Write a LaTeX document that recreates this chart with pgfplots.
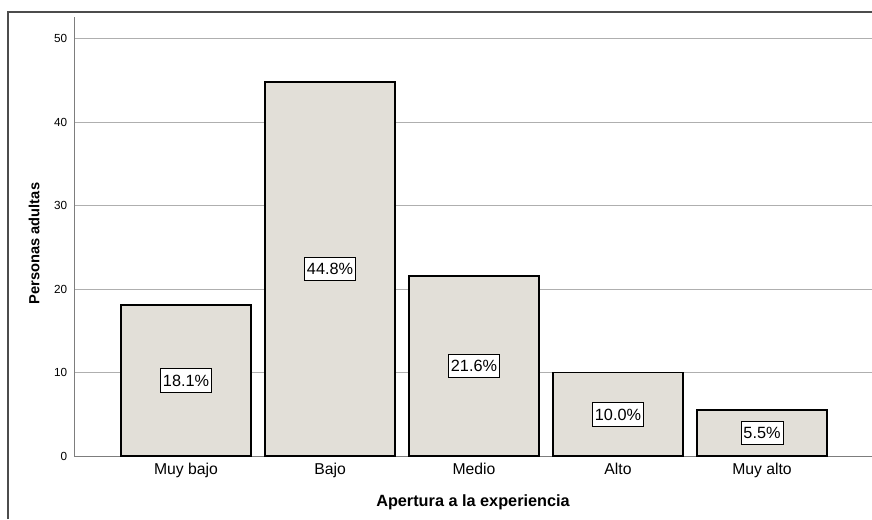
\documentclass[border=0pt]{standalone}
\usepackage{pgfplots}
\pgfplotsset{compat=1.18}
\usepackage{fontspec}
\setmainfont{Liberation Sans}
\definecolor{barfill}{RGB}{226,223,216}
\definecolor{gridc}{RGB}{175,175,175}
\definecolor{spinec}{RGB}{125,125,125}
\begin{document}
\begin{tikzpicture}
\useasboundingbox (0,0) rectangle (654pt,389.25pt);
\draw[line width=0.9pt, black!70] (6pt,0) -- (6pt,380.25pt) -- (654pt,380.25pt);
\begin{axis}[
  at={(55.5pt,47.25pt)}, anchor=south west,
  scale only axis,
  width=598.5pt, height=329.25pt,
  ybar, bar width=0.903, bar shift=0pt,
  xmin=-0.778, xmax=4.764,
  ymin=0, ymax=52.6,
  axis x line=bottom, axis y line=left,
  axis line style={-, draw=spinec, line width=0.75pt},
  major tick length=0pt,
  ytick={0,10,...,50},
  xtick={0,...,4},
  xticklabels={Muy bajo,Bajo,Medio,Alto,Muy alto},
  ymajorgrids,
  grid style={draw=gridc, line width=0.75pt},
  xticklabel style={font=\fontsize{11.8}{13}\selectfont, anchor=base, yshift=-14pt},
  yticklabel style={font=\fontsize{8.8}{10}\selectfont, anchor=east, xshift=-1.6pt},
  /pgf/number format/assume math mode=true,
  xlabel={Apertura a la experiencia},
  ylabel={Personas adultas},
  xlabel style={font=\bfseries\fontsize{12.2}{14}\selectfont, at={(axis description cs:0.5,0)}, anchor=center, yshift=-34.5pt},
  ylabel style={font=\bfseries\fontsize{11}{13}\selectfont, at={(axis description cs:-0.0501,0.484)}, anchor=center},
  visualization depends on={y \as \rawy},
  nodes near coords={\pgfmathprintnumber[fixed,fixed zerofill,precision=1]{\pgfplotspointmeta}\%},
  every node near coord/.append style={anchor=center, fill=white, draw=black, line width=0.6pt,
    inner xsep=1.8pt, inner ysep=4.5pt, text height=8.6pt, text depth=0pt,
    font=\fontsize{12.2}{14}\selectfont,
    shift={(axis direction cs:0,-\rawy/2)}},
]
\addplot[fill=barfill, draw=black, line width=1.2pt] coordinates {
  (0,18.1) (1,44.8) (2,21.6) (3,10.0) (4,5.5)
};
\end{axis}
\end{tikzpicture}
\end{document}
